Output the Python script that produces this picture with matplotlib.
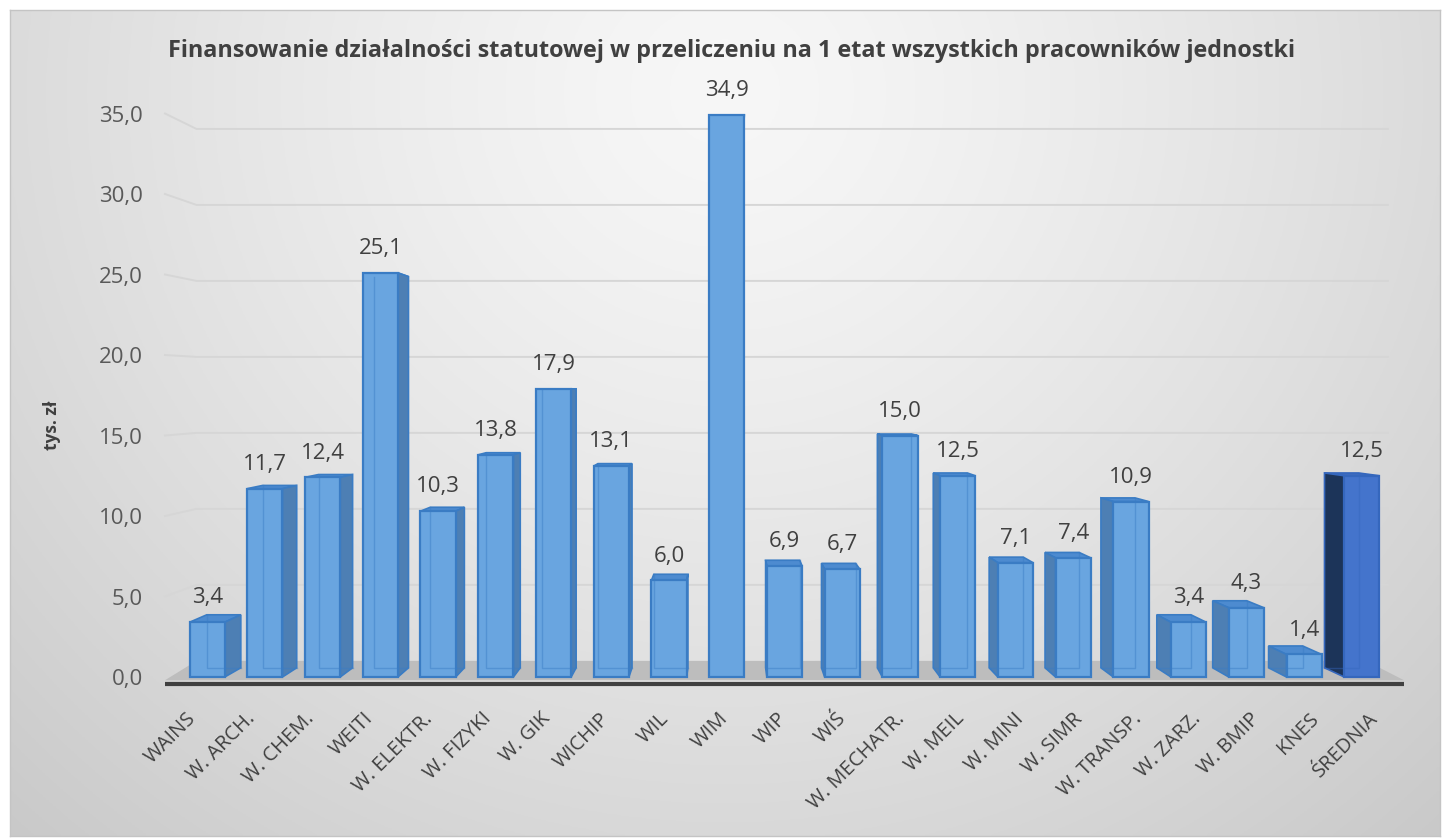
import numpy as np
import matplotlib
matplotlib.use('Agg')
import matplotlib.pyplot as plt
from matplotlib.patches import Polygon
from matplotlib.lines import Line2D
from matplotlib.transforms import ScaledTranslation

# ---------------- data ----------------
categories = ['WAINS', 'W. ARCH.', 'W. CHEM.', 'WEITI', 'W. ELEKTR.', 'W. FIZYKI',
              'W. GIK', 'WICHIP', 'WIL', 'WIM', 'WIP', 'WIŚ', 'W. MECHATR.',
              'W. MEIL', 'W. MINI', 'W. SIMR', 'W. TRANSP.', 'W. ZARZ.', 'W. BMIP',
              'KNES', 'ŚREDNIA']
values = [3.4, 11.7, 12.4, 25.1, 10.3, 13.8, 17.9, 13.1, 6.0, 34.9, 6.9, 6.7,
          15.0, 12.5, 7.1, 7.4, 10.9, 3.4, 4.3, 1.4, 12.5]
yticks = [0, 5, 10, 15, 20, 25, 30, 35]
title = ('Finansowanie działalności statutowej w przeliczeniu na 1 etat '
         'wszystkich pracowników jednostki')
ylabel = 'tys. zł'

plt.rcParams['font.family'] = ['Open Sans', 'DejaVu Sans']

W, H = 1448, 838
fig = plt.figure(figsize=(W / 100, H / 100), dpi=100)
fig.patch.set_facecolor('white')

# ---------------- gradient background panel ----------------
bg = fig.add_axes([10 / W, 2 / H, 1430 / W, 826 / H])
u = np.linspace(0, 1, 400)
v = np.linspace(0, 1, 300)
U, V = np.meshgrid(u, v)
d = np.sqrt(((U - 0.5) / 0.75) ** 2 + ((V - 0.1) / 1.25) ** 2)
d = np.clip(d, 0, 1)
light, dark = 247 / 255, 200 / 255
g = light + (dark - light) * d ** 1.3
img = np.dstack([g, g, g])
bg.imshow(img, aspect='auto', extent=[0, 1, 0, 1], origin='upper')
bg.set_xlim(0, 1)
bg.set_ylim(0, 1)
bg.set_xticks([])
bg.set_yticks([])
for sp in bg.spines.values():
    sp.set_color('#c4c4c4')
    sp.set_linewidth(1.0)
bg.set_zorder(0)

# ---------------- main axes ----------------
ax = fig.add_axes([165 / W, 161 / H, 1239 / W, 563.5 / H])
ax.set_facecolor('none')
ax.set_zorder(1)
n = len(categories)
x = np.arange(n)
xl, xr = -0.73, n - 1 + 0.73
ax.set_xlim(xl, xr)
ax.set_ylim(0, 35)
for sp in ax.spines.values():
    sp.set_visible(False)

vpx = float(np.argmax(values))   # vanishing point x (perspective centre)
vpy_w, s_w = 17.9, 0.056          # back wall / floor
vpy_b, s_b = 17.9, 0.032          # bar depth


def back(px, py, s, vpy):
    return px + s * (vpx - px), py + s * (vpy - py)


# floor
f_front = -0.2
fl = [(xl, f_front), (xr, f_front), back(xr, 0, s_w, vpy_w), back(xl, 0, s_w, vpy_w)]
ax.add_patch(Polygon(fl, closed=True, facecolor='#bdbdbd', edgecolor='none',
                     zorder=1, clip_on=False))

# gridlines on back wall
for t in yticks[1:]:
    bl = back(xl, t, s_w, vpy_w)
    br = back(xr + 0.4, t, s_w, vpy_w)
    ax.add_line(Line2D([xl, bl[0], br[0]], [t, bl[1], br[1]], color='#d6d6d6',
                       lw=1.4, zorder=1.5, clip_on=False))

# axis line
ax.add_line(Line2D([xl, xr], [-0.42, -0.42], color='#404040', lw=3.0,
                   solid_capstyle='butt', zorder=2, clip_on=False))

# ---------------- 3D-ish bars ----------------
hw = 0.305
for i, val in enumerate(values):
    last = (i == n - 1)
    if last:
        fc, sc, tc, ec = '#4474cc', '#1c3459', '#3f6cbf', '#3567bd'
    else:
        fc, sc, tc, ec = '#69a5e0', '#4d7fb4', '#4d8bd0', '#3a7cc4'
    fl_, fr_ = i - hw, i + hw
    btl = back(fl_, val, s_b, vpy_b)
    btr = back(fr_, val, s_b, vpy_b)
    bbl = back(fl_, 0, s_b, vpy_b)
    bbr = back(fr_, 0, s_b, vpy_b)
    z = 3 + 0.01 * i
    top = [(fl_, val), (fr_, val), btr, btl]
    ax.add_patch(Polygon(top, closed=True, facecolor=tc, edgecolor=ec, lw=1.2,
                         zorder=z, clip_on=False))
    if i < vpx:
        side = [(fr_, val), (fr_, 0), bbr, btr]
    else:
        side = [(fl_, val), (fl_, 0), bbl, btl]
    if i != vpx:
        ax.add_patch(Polygon(side, closed=True, facecolor=sc, edgecolor=ec,
                             lw=1.2, zorder=z + 0.001, clip_on=False))
    front = [(fl_, 0), (fr_, 0), (fr_, val), (fl_, val)]
    ax.add_patch(Polygon(front, closed=True, facecolor=fc, edgecolor=ec, lw=1.6,
                         zorder=z + 0.002, clip_on=False))
    if i < vpx:
        ax.add_line(Line2D([btl[0], bbl[0], bbr[0]], [btl[1], bbl[1], bbr[1]],
                           color=ec, alpha=0.45, lw=1.0, zorder=z + 0.003))
    elif i > vpx:
        ax.add_line(Line2D([btr[0], bbr[0], bbl[0]], [btr[1], bbr[1], bbl[1]],
                           color=ec, alpha=0.45, lw=1.0, zorder=z + 0.003))
    ax.annotate(f'{val:.1f}'.replace('.', ','), (i, val), xytext=(0, 17.5),
                textcoords='offset points', ha='center', va='center',
                fontsize=16, color='#404040', zorder=6, annotation_clip=False)

# ---------------- ticks ----------------
ax.set_yticks(yticks)
ax.set_yticklabels([f'{t:.1f}'.replace('.', ',') for t in yticks])
ax.tick_params(axis='y', length=0, pad=16, labelsize=16, labelcolor='#595959')
ax.set_xticks(x)
ax.set_xticklabels(categories, rotation=45, ha='right', va='center',
                   rotation_mode='anchor')
ax.tick_params(axis='x', length=0, pad=28, labelsize=14.5, labelcolor='#404040')
for i, lab in enumerate(ax.get_xticklabels()):
    dx = (-0.5 + 1.35 * (i - 10)) / 100.0
    lab.set_transform(lab.get_transform() + ScaledTranslation(dx, 0, fig.dpi_scale_trans))

# ---------------- texts ----------------
fig.text(732 / W, 1 - 57 / H, title, ha='center', va='baseline', fontsize=16.8,
         fontweight='bold', color='#404040')
fig.text(52 / W, 1 - 425 / H, ylabel, ha='center', va='center', rotation=90,
         fontsize=12.5, fontweight='bold', color='#404040')

fig.savefig('out.png', dpi=100)
